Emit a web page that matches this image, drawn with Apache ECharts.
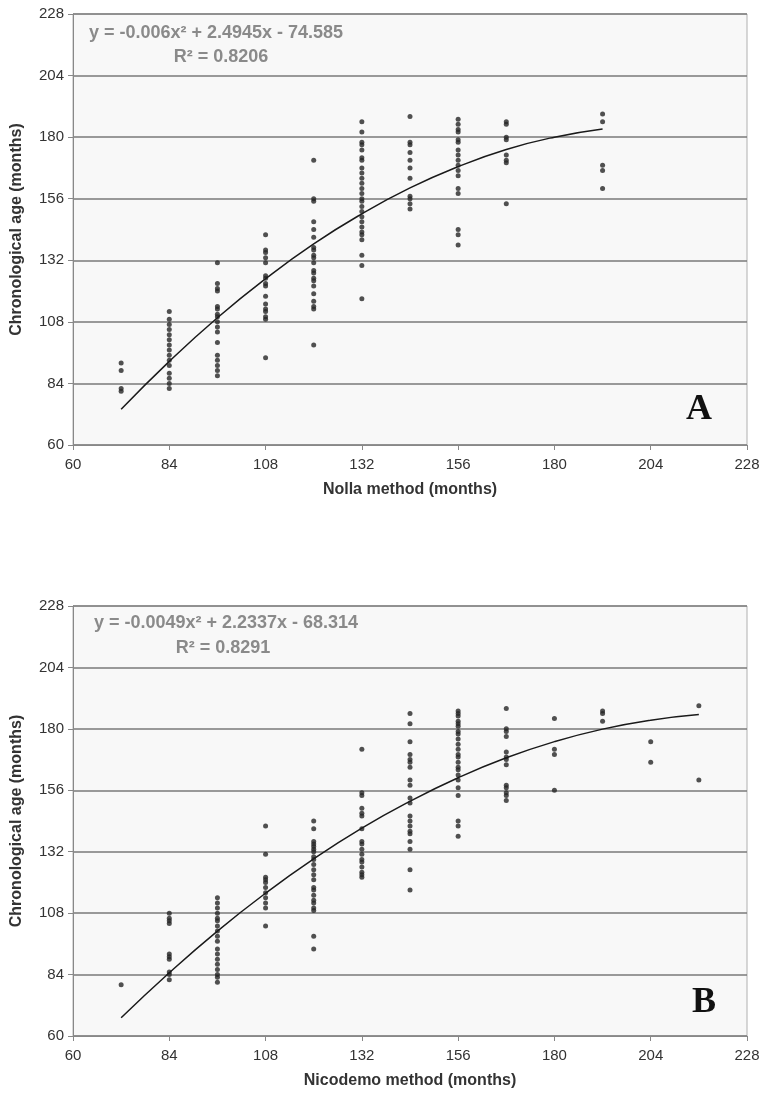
<!DOCTYPE html>
<html>
<head>
<meta charset="utf-8">
<script src="https://cdn.jsdelivr.net/npm/echarts@6/dist/echarts.min.js"></script>
<style>
  html, body { margin: 0; padding: 0; background: #fff; }
  #chart { width: 771px; height: 1103px; }
</style>
</head>
<body>
<div id="chart"></div>
<script>
// tick labels shared by both panels
const ticks = [60, 84, 108, 132, 156, 180, 204, 228]

// panel A: Nolla method, one column of ages per estimated age
const nollaCols = [72, 84, 96, 108, 120, 132, 144, 156, 168, 192]
const nollaAges = [
  [92, 89, 82, 81],
  [112, 109, 107, 105, 103, 101, 99, 97, 95, 93, 91, 88, 86, 84, 82],
  [131, 123, 121, 120, 114, 113, 111, 110, 108, 106, 104, 100, 95, 93, 91, 89, 87],
  [142, 136, 135, 133, 131, 126, 125, 123, 122, 118, 115, 113, 112, 110, 109, 94],
  [171, 156, 155, 147, 144, 141, 137, 136, 134, 133, 131, 128, 127, 125, 124, 122, 119, 116, 114, 113, 99],
  [186, 182, 178, 177, 175, 172, 171, 168, 166, 164, 162, 160, 158, 156, 155, 153, 151, 149, 147, 145, 143, 142, 140, 134, 130, 117],
  [188, 178, 177, 174, 171, 168, 164, 157, 156, 154, 152],
  [187, 185, 183, 182, 179, 178, 175, 173, 171, 169, 167, 165, 160, 158, 144, 142, 138],
  [186, 185, 180, 179, 173, 171, 170, 154],
  [189, 186, 169, 167, 160]
]
// trend curve
const nollaTrendX = [72, 84, 96, 108, 120, 132, 144, 156, 168, 180, 192]
const nollaTrendY = [73.9, 92.6, 109.6, 124.8, 138.4, 150.1, 160.2, 168.5, 175.2, 180.0, 183.2]

// panel B: Nicodemo method
const nicoCols = [72, 84, 96, 108, 120, 132, 144, 156, 168, 180, 192, 204, 216]
const nicoAges = [
  [80],
  [108, 106, 105, 104, 92, 91, 90, 85, 84, 82],
  [114, 112, 110, 108, 106, 105, 103, 101, 99, 97, 94, 92, 90, 88, 86, 84, 83, 81],
  [142, 131, 122, 121, 120, 118, 116, 114, 112, 110, 103],
  [144, 141, 136, 135, 134, 133, 132, 130, 129, 127, 125, 123, 121, 118, 117, 115, 113, 112, 110, 109, 99, 94],
  [172, 155, 154, 149, 147, 146, 141, 136, 135, 133, 131, 129, 128, 126, 124, 123, 122],
  [186, 182, 175, 170, 168, 167, 165, 160, 158, 153, 151, 146, 144, 142, 140, 139, 136, 133, 125, 117],
  [187, 186, 185, 183, 182, 181, 179, 178, 176, 174, 172, 170, 169, 167, 165, 164, 162, 160, 157, 154, 144, 142, 138],
  [188, 180, 179, 177, 171, 169, 168, 166, 158, 157, 155, 154, 152],
  [184, 172, 170, 156],
  [187, 186, 183],
  [175, 167],
  [189, 160]
]
const nicoTrendX = [72, 84, 96, 108, 120, 132, 144, 156, 168, 180, 192, 204, 216]
const nicoTrendY = [67.1, 84.7, 101.0, 115.8, 129.2, 141.2, 151.7, 160.9, 168.7, 175.0, 179.9, 183.4, 185.6]

const FONT = '"Liberation Sans", Arial, sans-serif'
const SERIF = '"Liberation Serif", "Times New Roman", serif'

// 把每一列展开成散点
function toPoints (cols, ages) {
  let pts = []
  for (let i = 0; i < cols.length; i++) {
    ages[i].forEach(a => pts.push([cols[i], a]))
  }
  return pts
}
function zip (xs, ys) {
  return xs.map((x, i) => [x, ys[i]])
}

function xAxisOf (gridIndex, name) {
  return {
    gridIndex: gridIndex,
    type: 'value',
    min: ticks[0],
    max: ticks[ticks.length - 1],
    interval: 24,
    name: name,
    nameLocation: 'middle',
    nameGap: 37,
    nameTextStyle: { fontFamily: FONT, fontSize: 16, fontWeight: 'bold', color: '#333' },
    axisLine: { lineStyle: { color: '#888', width: 1 } },
    axisTick: { show: true, length: 5, lineStyle: { color: '#888' } },
    axisLabel: { fontFamily: FONT, fontSize: 15, color: '#333', margin: 12 },
    splitLine: { show: false }
  }
}
function yAxisOf (gridIndex) {
  return {
    gridIndex: gridIndex,
    type: 'value',
    min: ticks[0],
    max: ticks[ticks.length - 1],
    interval: 24,
    name: 'Chronological age (months)',
    nameLocation: 'middle',
    nameGap: 48,
    nameTextStyle: { fontFamily: FONT, fontSize: 16, fontWeight: 'bold', color: '#333' },
    axisLine: { show: true, lineStyle: { color: '#888', width: 1 } },
    axisTick: { show: true, length: 5, lineStyle: { color: '#888' } },
    axisLabel: { fontFamily: FONT, fontSize: 15, color: '#333', margin: 9 },
    splitLine: { show: true, lineStyle: { color: '#7a7a7a', width: 1.5 } }
  }
}
// 公式文字
function eqText (x, y, txt) {
  return {
    type: 'text',
    x: x,
    y: y,
    style: { text: txt, fill: '#8a8a8a', font: 'bold 18px ' + FONT, align: 'center', verticalAlign: 'middle' }
  }
}
function panelLabel (x, y, txt) {
  return {
    type: 'text',
    x: x,
    y: y,
    style: { text: txt, fill: '#111', font: 'bold 36px ' + SERIF, align: 'center', verticalAlign: 'middle' }
  }
}

const myChart = echarts.init(document.getElementById('chart'))
const option = {
  backgroundColor: '#fff',
  animation: false,
  grid: [
    { left: 73, top: 14, width: 674, height: 431, show: true, backgroundColor: '#f8f8f8', borderColor: '#b0b0b0', borderWidth: 1 },
    { left: 73, top: 606, width: 674, height: 430, show: true, backgroundColor: '#f8f8f8', borderColor: '#b0b0b0', borderWidth: 1 }
  ],
  xAxis: [xAxisOf(0, 'Nolla method (months)'), xAxisOf(1, 'Nicodemo method (months)')],
  yAxis: [yAxisOf(0), yAxisOf(1)],
  graphic: [
    eqText(216, 33, 'y = -0.006x² + 2.4945x - 74.585'),
    eqText(221, 57, 'R² = 0.8206'),
    eqText(226, 623, 'y = -0.0049x² + 2.2337x - 68.314'),
    eqText(223, 648, 'R² = 0.8291'),
    panelLabel(699, 410, 'A'),
    panelLabel(704, 1003, 'B')
  ],
  series: [
    {
      type: 'scatter',
      xAxisIndex: 0,
      yAxisIndex: 0,
      symbol: 'circle',
      symbolSize: 5,
      itemStyle: { color: '#262626' },
      data: toPoints(nollaCols, nollaAges)
    },
    {
      type: 'line',
      xAxisIndex: 0,
      yAxisIndex: 0,
      smooth: true,
      showSymbol: false,
      lineStyle: { color: '#1a1a1a', width: 1.5 },
      data: zip(nollaTrendX, nollaTrendY)
    },
    {
      type: 'scatter',
      xAxisIndex: 1,
      yAxisIndex: 1,
      symbol: 'circle',
      symbolSize: 5,
      itemStyle: { color: '#262626' },
      data: toPoints(nicoCols, nicoAges)
    },
    {
      type: 'line',
      xAxisIndex: 1,
      yAxisIndex: 1,
      smooth: true,
      showSymbol: false,
      lineStyle: { color: '#1a1a1a', width: 1.5 },
      data: zip(nicoTrendX, nicoTrendY)
    }
  ]
}
myChart.setOption(option)
</script>
</body>
</html>
